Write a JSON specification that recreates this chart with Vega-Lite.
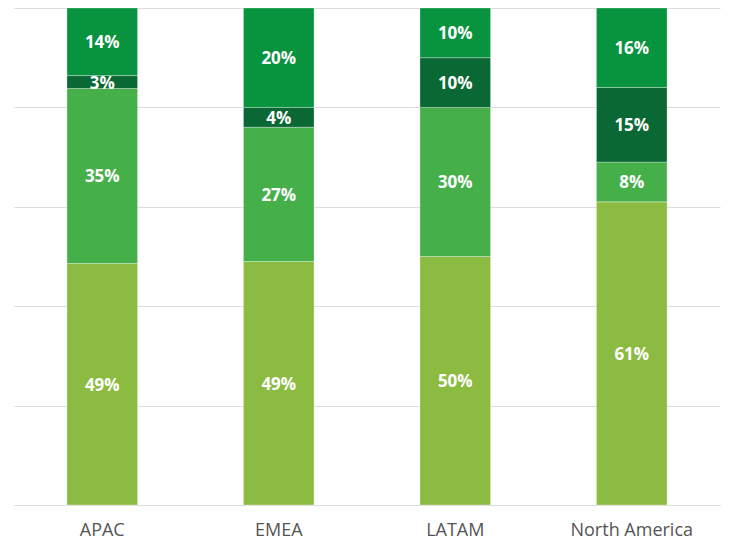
{
  "$schema": "https://vega.github.io/schema/vega-lite/v6.json",
  "autosize": "none",
  "width": 706,
  "height": 497,
  "padding": {"left": 14, "top": 8, "right": 9, "bottom": 43},
  "config": {"view": {"stroke": null}, "font": "Open Sans"},
  "data": {"values": [
    {"region": "APAC", "seg": "s1", "ord": 1, "v": 0.486},
    {"region": "APAC", "seg": "s2", "ord": 2, "v": 0.352},
    {"region": "APAC", "seg": "s3", "ord": 3, "v": 0.026},
    {"region": "APAC", "seg": "s4", "ord": 4, "v": 0.136},
    {"region": "EMEA", "seg": "s1", "ord": 1, "v": 0.49},
    {"region": "EMEA", "seg": "s2", "ord": 2, "v": 0.27},
    {"region": "EMEA", "seg": "s3", "ord": 3, "v": 0.04},
    {"region": "EMEA", "seg": "s4", "ord": 4, "v": 0.20},
    {"region": "LATAM", "seg": "s1", "ord": 1, "v": 0.50},
    {"region": "LATAM", "seg": "s2", "ord": 2, "v": 0.30},
    {"region": "LATAM", "seg": "s3", "ord": 3, "v": 0.10},
    {"region": "LATAM", "seg": "s4", "ord": 4, "v": 0.10},
    {"region": "North America", "seg": "s1", "ord": 1, "v": 0.61},
    {"region": "North America", "seg": "s2", "ord": 2, "v": 0.08},
    {"region": "North America", "seg": "s3", "ord": 3, "v": 0.15},
    {"region": "North America", "seg": "s4", "ord": 4, "v": 0.16}
  ]},
  "transform": [
    {"stack": "v", "groupby": ["region"], "sort": [{"field": "ord"}], "as": ["y0", "y1"], "offset": "normalize"},
    {"calculate": "(datum.y0 + datum.y1) / 2", "as": "ymid"}
  ],
  "encoding": {
    "x": {
      "field": "region", "type": "nominal", "sort": null,
      "scale": {"paddingInner": 0.6, "paddingOuter": 0.3},
      "axis": {"title": null, "labelAngle": 0, "ticks": false, "domain": true, "domainColor": "#dddddd", "labelFont": "Open Sans", "labelFontSize": 18, "labelColor": "#555555", "labelPadding": 16}
    }
  },
  "layer": [
    {
      "mark": {"type": "bar", "stroke": "#ffffff", "strokeOpacity": 0.3, "strokeWidth": 1},
      "encoding": {
        "y": {"field": "y0", "type": "quantitative", "scale": {"domain": [0, 1]},
          "axis": {"title": null, "labels": false, "ticks": false, "domain": false, "tickCount": 5, "gridColor": "#dddddd", "gridWidth": 1}},
        "y2": {"field": "y1"},
        "color": {"field": "seg", "type": "nominal", "legend": null,
          "scale": {"domain": ["s1", "s2", "s3", "s4"], "range": ["#8BBC41", "#45B04A", "#0A6834", "#08933F"]}}
      }
    },
    {
      "mark": {"type": "text", "color": "#ffffff", "fontWeight": "bold", "fontSize": 17, "font": "Open Sans", "baseline": "middle", "dy": 1.5},
      "encoding": {
        "y": {"field": "ymid", "type": "quantitative"},
        "text": {"field": "v", "type": "quantitative", "format": ".0%"}
      }
    }
  ]
}
